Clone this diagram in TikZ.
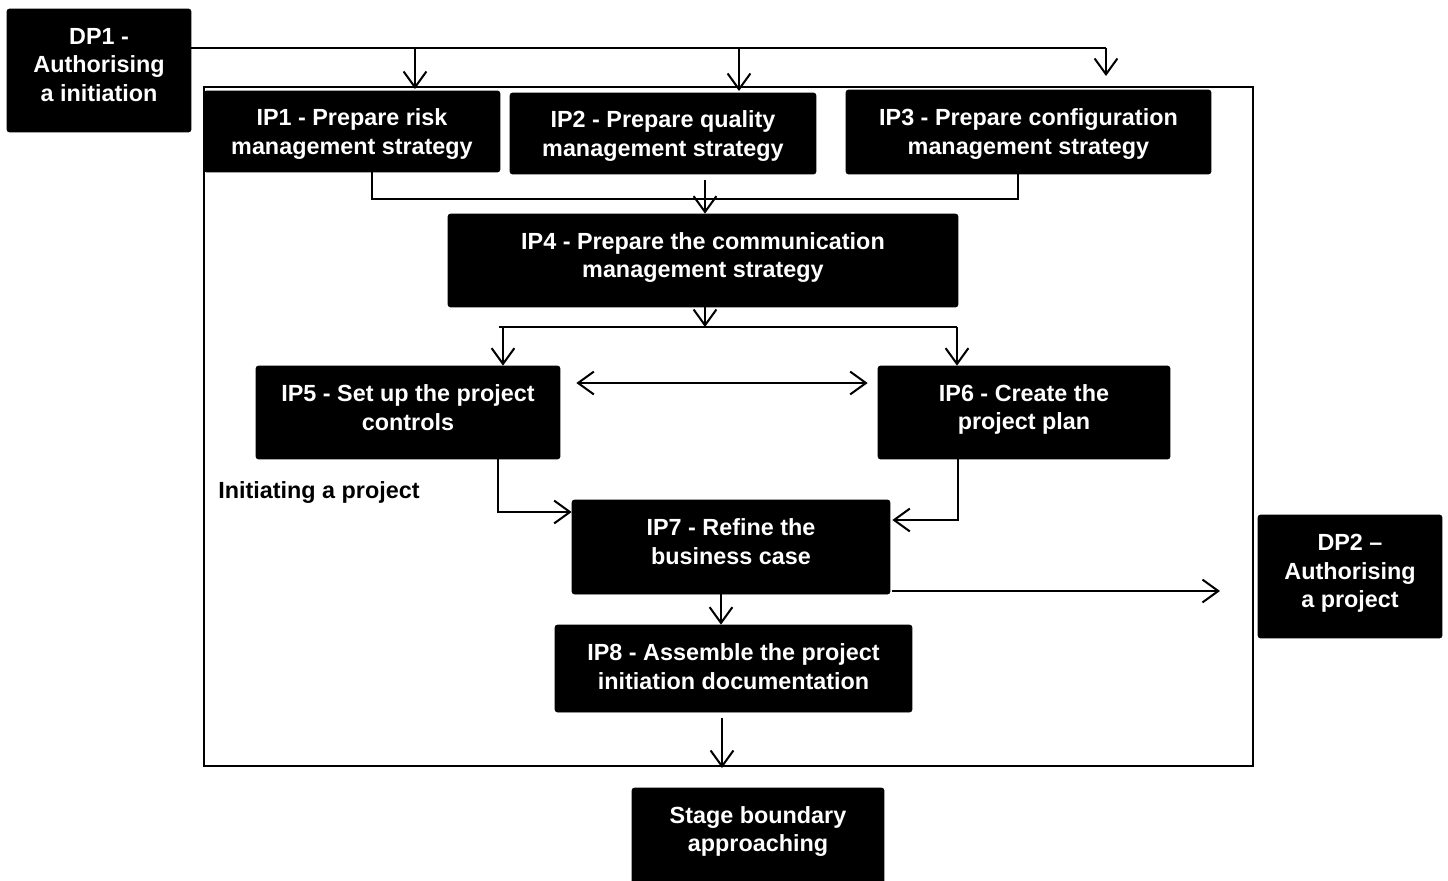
\documentclass[tikz,border=0pt]{standalone}
\usepackage{fontspec}
\setmainfont{Liberation Sans}
\usetikzlibrary{arrows.meta,calc}

\begin{document}
\begin{tikzpicture}[x=0.02cm,y=-0.02cm,
  box/.style={fill=black,draw=black,rounded corners=0.05cm,inner sep=0pt},
  txt/.style={text=white,font=\fontsize{13.3}{16.2}\selectfont\bfseries,align=center,inner sep=0pt,yshift=-0.05cm},
  line/.style={draw=black,line width=1.15pt},
  arr/.style={line,-{Straight Barb[length=9pt,width=13pt,line width=1.15pt]}},
  arrs/.style={line,{Straight Barb[length=9pt,width=13pt,line width=1.15pt]}-{Straight Barb[length=9pt,width=13pt,line width=1.15pt]}}
]
\useasboundingbox (0,0) rectangle (1448,880);

% process frame
\draw[line width=0.8pt] (204,87) rectangle (1253,766);

% boxes
\node[box,minimum width=3.68cm,minimum height=2.46cm] (dp1) at (99,70.5) {};
\node[txt] at (99,62.5) {DP1 -\\Authorising\\a initiation};

\node[box,minimum width=5.92cm,minimum height=1.62cm] (ip1) at (352,131.5) {};
\node[txt] at (352,131.5) {IP1 - Prepare risk\\management strategy};

\node[box,minimum width=6.12cm,minimum height=1.62cm] (ip2) at (663,133.5) {};
\node[txt] at (663,133.5) {IP2 - Prepare quality\\management strategy};

\node[box,minimum width=7.30cm,minimum height=1.68cm] (ip3) at (1028.5,132) {};
\node[txt] at (1028.5,131.5) {IP3 - Prepare configuration\\management strategy};

\node[box,minimum width=10.20cm,minimum height=1.86cm] (ip4) at (703,260.5) {};
\node[txt] at (703,255) {IP4 - Prepare the communication\\management strategy};

\node[box,minimum width=6.08cm,minimum height=1.86cm] (ip5) at (408,412.5) {};
\node[txt] at (408,405) {IP5 - Set up the project\\controls};

\node[box,minimum width=5.84cm,minimum height=1.86cm] (ip6) at (1024,412.5) {};
\node[txt] at (1024,407) {IP6 - Create the\\project plan};

\node[box,minimum width=6.36cm,minimum height=1.88cm] (ip7) at (731,547) {};
\node[txt] at (731,539) {IP7 - Refine the\\business case};

\node[box,minimum width=7.14cm,minimum height=1.74cm] (ip8) at (733.5,668.5) {};
\node[txt] at (733.5,664) {IP8 - Assemble the project\\initiation documentation};

\node[box,minimum width=3.68cm,minimum height=2.46cm] (dp2) at (1350,576.5) {};
\node[txt] at (1350,571) {DP2 --\\Authorising\\a project};

\node[box,minimum width=5.04cm,minimum height=1.92cm] (stage) at (758,836) {};
\node[txt] at (758,829) {Stage boundary\\approaching};

\node[txt,text=black,anchor=west] (lbl) at (218,490) {Initiating a project};

% free ends
\coordinate (dp1bus) at (1106,48);
\coordinate (dp1end) at (1106,76);
\coordinate (ip2out) at (705,180);
\coordinate (dp2in) at (1220,591);
\coordinate (ip8out) at (722,718);
\coordinate (ip8end) at (722,768);

% DP1 distribution
\draw[line] (dp1.east |- dp1bus) -- (dp1bus);
\draw[arr] (415,48) -- (415,48 |- 0,89);
\draw[arr] (739,48) -- (739,48 |- 0,91);
\draw[arr] (dp1bus) -- (dp1end);

% IP1..IP3 into IP4
\draw[line] (372,0 |- ip1.south) -- (372,199) -- (1018,199) -- (1018,0 |- ip3.south);
\draw[arr] (ip2out) -- (ip2out |- ip4.north);

% IP4 fan-out
\draw[arr] (705,0 |- ip4.south) -- (705,327);
\draw[line] (499,327) -- (957,327);
\draw[arr] (503,327) -- (503,0 |- ip5.north);
\draw[arr] (957,327) -- (957,0 |- ip6.north);

% IP5 <-> IP6
\draw[arrs] ([xshift=0.32cm]ip5.east |- 0,383) -- ([xshift=-0.2cm]ip6.west |- 0,383);

% into IP7
\draw[arr] (498,0 |- ip5.south) -- (498,512) -- (ip7.west |- 0,512);
\draw[arr] (958,0 |- ip6.south) -- (958,520) -- ([xshift=0.04cm]ip7.east |- 0,520);

% IP7 onwards
\draw[arr] (721,0 |- ip7.south) -- (721,0 |- ip8.north);
\draw[arr] ([xshift=0.04cm]ip7.east |- dp2in) -- (dp2in);
\draw[arr] (ip8out) -- (ip8end);
\end{tikzpicture}
\end{document}
